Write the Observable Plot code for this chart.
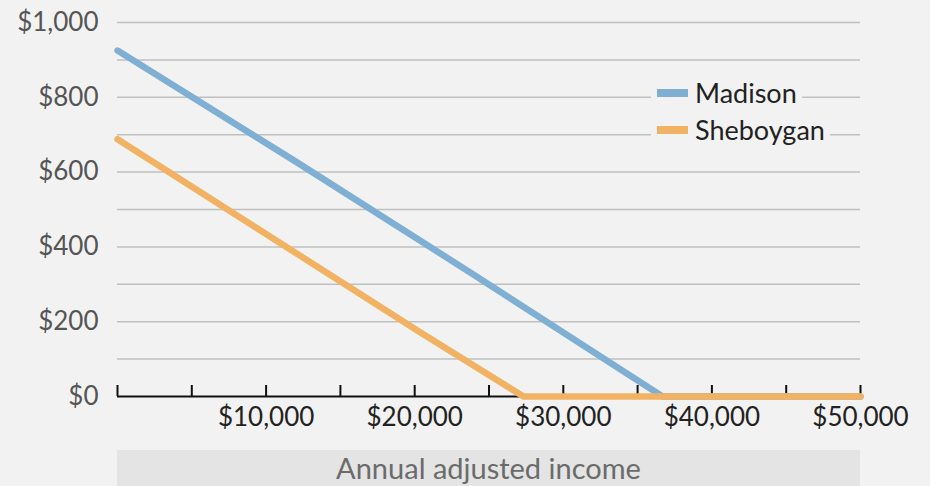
<!DOCTYPE html>
<html>
<head>
<meta charset="utf-8">
<script src="https://cdn.jsdelivr.net/npm/d3@7"></script>
<script src="https://cdn.jsdelivr.net/npm/@observablehq/plot@0.6"></script>
<style>
  html, body { margin: 0; padding: 0; background: #f2f2f2; }
  #wrap { position: relative; width: 930px; height: 486px; overflow: hidden; font-family: Lato, "Open Sans", sans-serif; }
  #legend { position: absolute; left: 651px; top: 74px; }
  .row { display: flex; align-items: center; background: #f2f2f2; padding: 0 5px 0 6px; width: max-content; height: 37px; font-size: 27px; color: #222; }
  .sw { width: 31px; height: 8px; margin-right: 7px; }
  #band { margin-left: 117px; width: 743px; height: 36px; background: #e4e4e4; color: #6b6b6b; text-align: center; font-size: 29px; line-height: 36px; overflow: hidden; white-space: nowrap; }
</style>
</head>
<body>
<div id="wrap">
  <div id="chart"></div>
  <div id="band"></div>
  <div id="legend"></div>
</div>
<script>
// Data
const seriesNames = ["Madison", "Sheboygan"];
const seriesColors = ["#80afd4", "#f2b264"];
const madisonIncome = [0, 12000, 24000, 36680, 50000];
const madisonValue  = [925, 628, 325, 0, 0];
const sheboyganIncome = [0, 20390, 27320, 50000];
const sheboyganValue  = [688, 171, 0, 0];
const yGridValues = [100, 200, 300, 400, 500, 600, 700, 800, 900, 1000];
const yLabelValues = [0, 200, 400, 600, 800, 1000];
const xTickValues = [0, 5000, 10000, 15000, 20000, 25000, 30000, 35000, 40000, 45000, 50000];
const xLabelValues = [10000, 20000, 30000, 40000, 50000];
const xTitle = "Annual adjusted income";

const money = d3.format("$,");
const madison = madisonIncome.map((x, i) => ({x, y: madisonValue[i]}));
const sheboygan = sheboyganIncome.map((x, i) => ({x, y: sheboyganValue[i]}));

const chart = Plot.plot({
  width: 930,
  height: 450,
  marginLeft: 117,
  marginRight: 70,
  marginTop: 22,
  marginBottom: 54,
  style: { background: "transparent", fontFamily: "Lato, 'Open Sans', sans-serif" },
  x: { domain: [0, 50000] },
  y: { domain: [0, 1000] },
  marks: [
    Plot.ruleY(yGridValues, { stroke: "#c0c0c0", strokeWidth: 1.5 }),
    Plot.axisY(yLabelValues, { tickSize: 0, tickPadding: 19, tickFormat: money, fontSize: 26, color: "#555", label: null }),
    Plot.axisX(xTickValues, { tickSize: -11, tickFormat: () => "", strokeWidth: 2, color: "#111", label: null }),
    Plot.axisX(xLabelValues, { tickSize: 0, tickPadding: 11, tickFormat: money, fontSize: 26, color: "#222", label: null }),
    Plot.ruleY([0], { stroke: "#111", strokeWidth: 2 }),
    Plot.line(madison, { x: "x", y: "y", stroke: seriesColors[0], strokeWidth: 6.5, strokeLinejoin: "round", strokeLinecap: "round" }),
    Plot.line(sheboygan, { x: "x", y: "y", stroke: seriesColors[1], strokeWidth: 6.5, strokeLinejoin: "round", strokeLinecap: "round" })
  ]
});
document.getElementById("chart").appendChild(chart);
document.getElementById("band").textContent = xTitle;

const legend = document.getElementById("legend");
seriesNames.forEach((name, i) => {
  const row = document.createElement("div");
  row.className = "row";
  const sw = document.createElement("span");
  sw.className = "sw";
  sw.style.background = seriesColors[i];
  const t = document.createElement("span");
  t.textContent = name;
  row.appendChild(sw);
  row.appendChild(t);
  legend.appendChild(row);
});
</script>
</body>
</html>
